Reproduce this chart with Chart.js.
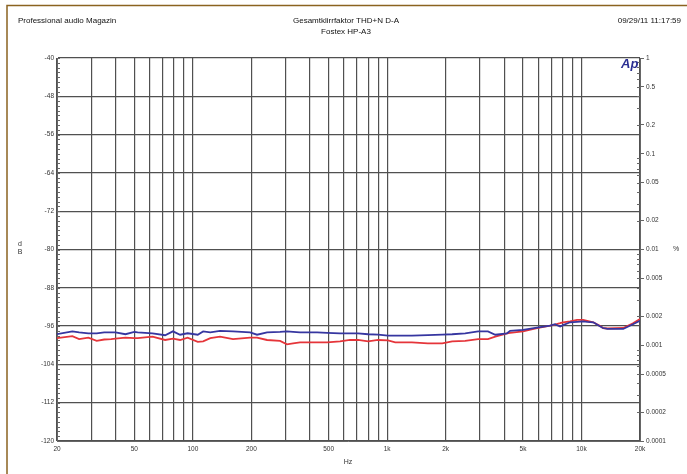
<!DOCTYPE html>
<html>
<head>
<meta charset="utf-8">
<style>
  html, body { margin: 0; padding: 0; background: #fff; }
  #wrap { position: relative; width: 687px; height: 474px; }
</style>
</head>
<body>
<div id="wrap"><canvas id="thd" width="687" height="474"></canvas></div>
<script src="https://cdn.jsdelivr.net/npm/chart.js"></script>
<script>
// frequency points (Hz)
const freqs = [20, 24, 26, 29, 32, 35, 38, 40, 45, 50, 52, 62, 72, 79, 86, 94, 106, 113, 123, 138,
  161, 197, 214, 241, 281, 305, 328, 356, 401, 436, 491, 572, 644, 708, 798, 898, 1010, 1100, 1340, 1620,
  1920, 2160, 2520, 2940, 3300, 3600, 4140, 4290, 5000, 5900, 6900, 7300, 7760, 8040, 8730, 9490, 10200,
  10700, 11500, 12500, 12900, 13600, 16400, 18400, 20000];

// THD+N in dB, blue channel
const blueDb = [-97.7, -97.1, -97.3, -97.5, -97.5, -97.3, -97.3, -97.3, -97.7, -97.2, -97.3, -97.5, -97.9, -97.1,
  -97.8, -97.5, -97.8, -97.1, -97.3, -97.0, -97.1, -97.3, -97.8, -97.3, -97.2, -97.1, -97.2, -97.3, -97.3, -97.3,
  -97.4, -97.5, -97.5, -97.5, -97.7, -97.8, -98.0, -98.0, -98.0, -97.9, -97.8, -97.7, -97.5, -97.1, -97.1, -97.8,
  -97.5, -97.0, -96.8, -96.3, -95.9, -95.6, -96.1, -95.8, -95.2, -95.1, -95.0, -95.1, -95.2, -96.1, -96.4, -96.6,
  -96.6, -95.6, -94.9];

// THD+N in dB, red channel
const redDb = [-98.5, -98.1, -98.7, -98.4, -99.1, -98.8, -98.7, -98.6, -98.4, -98.5, -98.5, -98.2, -98.9, -98.6,
  -98.9, -98.4, -99.3, -99.2, -98.5, -98.2, -98.7, -98.4, -98.4, -98.9, -99.1, -99.8, -99.6, -99.4, -99.4, -99.4,
  -99.4, -99.2, -98.9, -98.9, -99.2, -98.9, -99.0, -99.4, -99.4, -99.6, -99.6, -99.2, -99.1, -98.7, -98.7, -98.2,
  -97.5, -97.4, -97.1, -96.4, -95.9, -95.7, -95.4, -95.2, -95.0, -94.7, -94.7, -94.9, -95.2, -96.0, -96.4, -96.5,
  -96.4, -95.4, -94.5];

const dbTicks = [-40, -48, -56, -64, -72, -80, -88, -96, -104, -112, -120];
const pctTicks = [1, 0.5, 0.2, 0.1, 0.05, 0.02, 0.01, 0.005, 0.002, 0.001, 0.0005, 0.0002, 0.0001];
const freqGrid = [20, 30, 40, 50, 60, 70, 80, 90, 100, 200, 300, 400, 500, 600, 700, 800, 900,
  1000, 2000, 3000, 4000, 5000, 6000, 7000, 8000, 9000, 10000, 20000];
const freqLabels = { 20: "20", 50: "50", 100: "100", 200: "200", 500: "500", 1000: "1k", 2000: "2k",
  5000: "5k", 10000: "10k", 20000: "20k" };

const FONT = '"Liberation Sans", Arial, sans-serif';
const gridGray = "#505050";

const extras = {
  id: "extras",
  afterDraw(chart) {
    const c = chart.ctx;
    const a = chart.chartArea;
    const y = chart.scales.y;
    const y2 = chart.scales.y2;
    c.save();

    // frame round the page
    c.strokeStyle = "#8b6320";
    c.lineWidth = 1.5;
    c.beginPath();
    c.moveTo(7, 474);
    c.lineTo(7, 5.5);
    c.lineTo(687, 5.5);
    c.stroke();

    // minor dB ticks, every 1 dB
    c.strokeStyle = "#666";
    c.lineWidth = 1;
    c.beginPath();
    for (let v = -120; v <= -40; v++) {
      const py = Math.round(y.getPixelForValue(v)) + 0.5;
      c.moveTo(a.left, py);
      c.lineTo(a.left + 3, py);
    }
    // minor % ticks on the right
    for (let dec = 0.0001; dec < 1; dec *= 10) {
      for (let m = 2; m <= 9; m++) {
        const py = Math.round(y2.getPixelForValue(dec * m)) + 0.5;
        c.moveTo(a.right - 3, py);
        c.lineTo(a.right, py);
      }
    }
    c.stroke();

    // header texts
    c.fillStyle = "#111";
    c.textBaseline = "middle";
    c.font = "8px " + FONT;
    c.textAlign = "left";
    c.fillText("Professional audio Magazin", 18, 21);
    c.textAlign = "right";
    c.fillText("09/29/11 11:17:59", 681, 21);
    c.textAlign = "center";
    c.fillText("Gesamtklirrfaktor THD+N D-A", 346, 21);
    c.fillText("Fostex HP-A3", 346, 32);

    // axis names
    c.fillStyle = "#333";
    c.font = "7px " + FONT;
    c.fillText("d", 20, 244);
    c.fillText("B", 20, 252);
    c.fillText("%", 676, 249);
    c.fillText("Hz", 348, 462);

    // Ap logo
    c.fillStyle = "#2b2f92";
    c.font = "italic bold 13px " + FONT;
    c.textAlign = "left";
    c.textBaseline = "alphabetic";
    c.fillText("Ap", 621, 68);

    c.restore();
  },
};

new Chart(document.getElementById("thd"), {
  type: "line",
  data: {
    datasets: [
      {
        label: "Ch B",
        data: freqs.map((f, i) => ({ x: f, y: blueDb[i] })),
        borderColor: "#3636a0",
        borderWidth: 1.8,
        pointRadius: 0,
        tension: 0,
      },
      {
        label: "Ch A",
        data: freqs.map((f, i) => ({ x: f, y: redDb[i] })),
        borderColor: "#e5353a",
        borderWidth: 1.8,
        pointRadius: 0,
        tension: 0,
      },
    ],
  },
  options: {
    responsive: false,
    animation: false,
    devicePixelRatio: 1,
    layout: { padding: { top: 58, left: 0, right: 0, bottom: 0 } },
    plugins: { legend: { display: false }, tooltip: { enabled: false } },
    scales: {
      x: {
        type: "logarithmic",
        min: 20,
        max: 20000,
        afterBuildTicks: (s) => { s.ticks = freqGrid.map((v) => ({ value: v })); },
        afterFit: (s) => { s.height = 33; },
        ticks: {
          autoSkip: false,
          maxRotation: 0,
          padding: 4,
          color: "#333",
          font: { family: FONT, size: 6.5 },
          callback: (v) => freqLabels[v] || "",
        },
        grid: { color: gridGray, lineWidth: 1.2, drawTicks: false },
        border: { color: "#666", width: 1 },
      },
      y: {
        type: "linear",
        position: "left",
        min: -120,
        max: -40,
        afterBuildTicks: (s) => { s.ticks = dbTicks.map((v) => ({ value: v })); },
        afterFit: (s) => { s.width = 57; },
        ticks: { padding: 3, color: "#333", font: { family: FONT, size: 6.5 } },
        grid: { color: gridGray, lineWidth: 1.2, drawTicks: false },
        border: { color: "#666", width: 1 },
      },
      y2: {
        type: "logarithmic",
        position: "right",
        min: 0.0001,
        max: 1,
        afterBuildTicks: (s) => { s.ticks = pctTicks.map((v) => ({ value: v })); },
        afterFit: (s) => { s.width = 47; },
        ticks: {
          padding: 2,
          color: "#333",
          font: { family: FONT, size: 6.5 },
          callback: (v) => String(v),
        },
        grid: { drawOnChartArea: false, tickLength: 4, tickColor: "#666" },
        border: { color: "#666", width: 1 },
      },
    },
  },
  plugins: [extras],
});
</script>
</body>
</html>
